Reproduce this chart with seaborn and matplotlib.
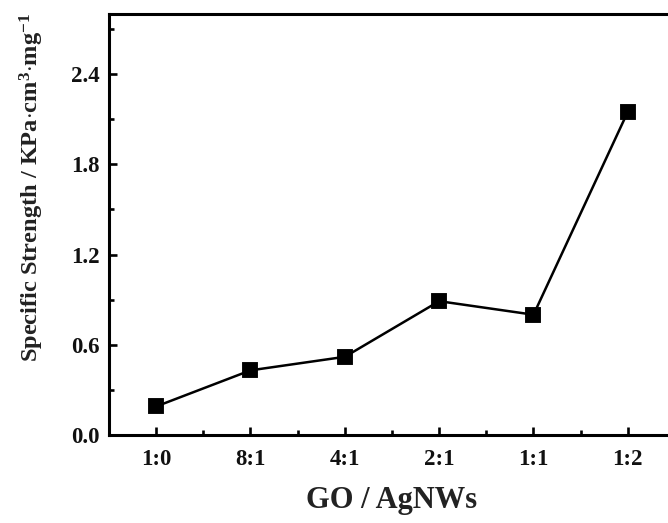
import matplotlib
matplotlib.use("Agg")
import matplotlib.pyplot as plt
import seaborn as sns
import numpy as np
from matplotlib.ticker import MultipleLocator

ratios = ["1:0", "8:1", "4:1", "2:1", "1:1", "1:2"]
strength = [0.19, 0.43, 0.52, 0.89, 0.80, 2.15]
y_ticks = [0.0, 0.6, 1.2, 1.8, 2.4]

sns.set_theme(style="ticks")
plt.rcParams["font.family"] = ["Liberation Serif", "DejaVu Serif"]
plt.rcParams["font.weight"] = "bold"
plt.rcParams["mathtext.fontset"] = "custom"
plt.rcParams["mathtext.rm"] = "Liberation Serif:bold"
plt.rcParams["mathtext.it"] = "Liberation Serif:bold"
plt.rcParams["mathtext.bf"] = "Liberation Serif:bold"
plt.rcParams["mathtext.default"] = "rm"

fig = plt.figure(figsize=(6.68, 5.23), dpi=100)
W, H = 668, 523
left, right, top, bottom = 109, 675, 14, 435
ax = fig.add_axes([left / W, (H - bottom) / H, (right - left) / W, (bottom - top) / H])

sns.pointplot(x=ratios, y=strength, ax=ax, color="black", markers="s",
              linestyles="-", markersize=10, linewidth=1.8, errorbar=None)

ax.set_xlim(-0.5, 5.5)
ax.set_ylim(0, 2.8)
ax.set_yticks(y_ticks)
ax.set_yticklabels([f"{v:.1f}" for v in y_ticks])
ax.yaxis.set_minor_locator(MultipleLocator(0.3))
ax.set_xticks(range(len(ratios)))
ax.set_xticklabels(ratios)
ax.set_xticks(np.arange(len(ratios)) + 0.5, minor=True)

for s in ax.spines.values():
    s.set_linewidth(2.2)
    s.set_color("black")

ax.tick_params(axis="both", which="major", direction="in", length=6, width=1.9,
               labelsize=16.5, color="black", labelcolor="#111111")
ax.tick_params(axis="both", which="minor", direction="in", length=3.5, width=1.9, color="black")
ax.tick_params(axis="x", which="major", pad=10)
ax.tick_params(axis="y", which="major", pad=7)
for lab in ax.get_xticklabels() + ax.get_yticklabels():
    lab.set_fontweight("bold")

ax.set_xlabel("GO / AgNWs", fontsize=22, fontweight="bold", color="#222222")
ax.set_ylabel(r"Specific Strength / KPa$\cdot$cm$^{3}$$\cdot$mg$^{-1}$", fontsize=17.6,
              fontweight="bold", color="#222222")
ax.xaxis.set_label_coords(0.5, (bottom - 486) / (bottom - top))
ax.xaxis.label.set_verticalalignment("top")
ax.yaxis.set_label_coords((18 - left) / (right - left), (bottom - 187) / (bottom - top))
ax.yaxis.label.set_verticalalignment("top")
ax.grid(False)

fig.savefig("out.png", dpi=100)
